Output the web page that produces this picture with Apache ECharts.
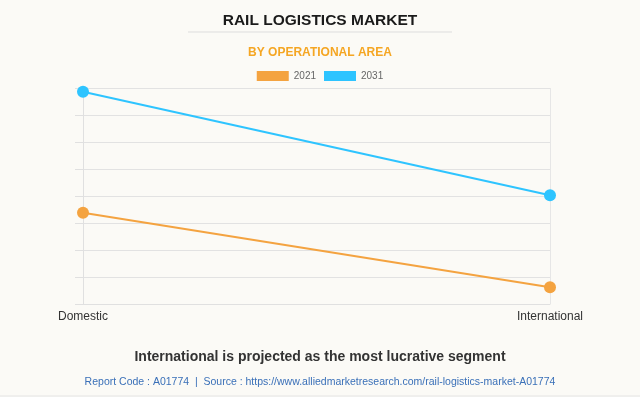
<!DOCTYPE html>
<html><head><meta charset="utf-8">
<script src="https://cdn.jsdelivr.net/npm/echarts@6/dist/echarts.min.js"></script>
<style>html,body{margin:0;padding:0;background:#FBFAF6;}#c{width:640px;height:397px;}</style>
</head><body><div id="c"></div>
<script>
const categories = ['Domestic', 'International'];
const values2021 = [3.38, 0.62];
const values2031 = [7.86, 4.03];
const seriesNames = ['2021', '2031'];

const chart = echarts.init(document.getElementById('c'), null, {renderer: 'canvas'});
chart.setOption({
  backgroundColor: '#FBFAF6',
  animation: false,
  title: [
    {text: 'RAIL LOGISTICS MARKET', left: 'center', top: 8,
     textStyle: {fontFamily: 'Arial, Liberation Sans', fontSize: 15.5, fontWeight: 'bold', color: '#1A1A1A'}},
    {text: 'BY OPERATIONAL AREA', left: 'center', top: 42,
     textStyle: {fontFamily: 'Arial, Liberation Sans', fontSize: 12, fontWeight: 'bold', color: '#F5A623'}},
    {text: 'International is projected as the most lucrative segment', left: 'center', top: 345,
     textStyle: {fontFamily: 'Arial, Liberation Sans', fontSize: 14, fontWeight: 'bold', color: '#333'}},
    {text: 'Report Code : A01774  |  Source : https://www.alliedmarketresearch.com/rail-logistics-market-A01774', left: 'center', top: 372,
     textStyle: {fontFamily: 'Arial, Liberation Sans', fontSize: 10.5, fontWeight: 'normal', color: '#3A70B8'}}
  ],
  graphic: [
    {type: 'line', shape: {x1: 188, y1: 32, x2: 452, y2: 32}, style: {stroke: '#DDDDDD', lineWidth: 1}},
    {type: 'line', shape: {x1: 0, y1: 396, x2: 640, y2: 396}, style: {stroke: '#E4E4E4', lineWidth: 1}}
  ],
  legend: {
    top: 66, left: 'center', itemWidth: 32, itemHeight: 10, itemGap: 8,
    icon: 'rect',
    textStyle: {fontFamily: 'Arial, Liberation Sans', fontSize: 10, color: '#666'},
    data: seriesNames
  },
  grid: {left: 83, right: 90, top: 88, bottom: 93},
  xAxis: {
    type: 'category', data: categories, boundaryGap: false,
    axisLine: {show: true, lineStyle: {color: '#E0E0E0'}},
    axisTick: {show: false},
    splitLine: {show: true, lineStyle: {color: '#E6E6E6'}},
    axisLabel: {fontFamily: 'Arial, Liberation Sans', fontSize: 12, color: '#333', margin: 7}
  },
  yAxis: {
    type: 'value', min: 0, max: 8, interval: 1,
    axisLine: {show: true, lineStyle: {color: '#E0E0E0'}},
    axisTick: {show: true, length: 8, lineStyle: {color: '#E0E0E0'}},
    axisLabel: {show: false},
    splitLine: {show: true, lineStyle: {color: '#E2E2E2'}}
  },
  series: [
    {name: seriesNames[0], type: 'line', data: values2021, symbol: 'circle', symbolSize: 12,
     itemStyle: {color: '#F4A340'}, lineStyle: {width: 2, color: '#F4A340'}},
    {name: seriesNames[1], type: 'line', data: values2031, symbol: 'circle', symbolSize: 12,
     itemStyle: {color: '#2EC4FF'}, lineStyle: {width: 2, color: '#2EC4FF'}}
  ]
});
</script></body></html>
